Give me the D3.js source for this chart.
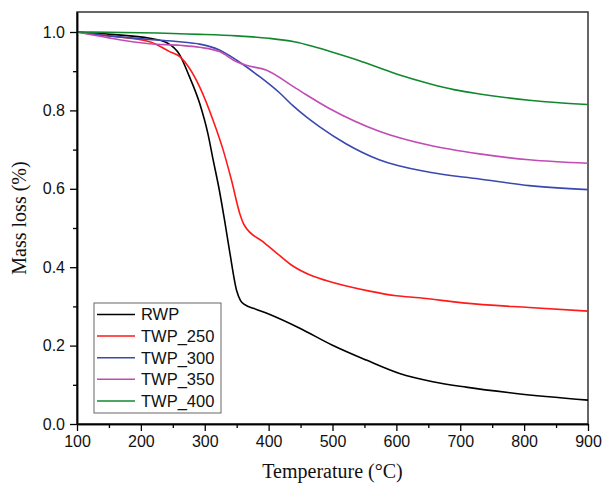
<!DOCTYPE html>
<html>
<head>
<meta charset="utf-8">
<script src="https://cdn.jsdelivr.net/npm/d3@7"></script>
<style>
  body { margin: 0; background: #fff; }
  #chart svg { display: block; }
</style>
</head>
<body>
<div id="chart"></div>
<script>
// Series: temperature (°C) and mass fraction
const seriesNames = ["RWP", "TWP_250", "TWP_300", "TWP_350", "TWP_400"];
const seriesColors = ["#000000", "#ff1a1a", "#3a48b0", "#c04cb4", "#12882e"];

const rwpT = [100, 152, 214, 240, 261, 275, 292, 305, 313, 323, 331, 339, 350, 356, 362, 380, 401, 448, 500, 553, 605, 657, 709, 787, 900];
const rwpV = [1.0, 0.994, 0.984, 0.973, 0.941, 0.89, 0.818, 0.74, 0.675, 0.595, 0.52, 0.44, 0.34, 0.315, 0.305, 0.293, 0.280, 0.245, 0.201, 0.163, 0.129, 0.108, 0.094, 0.078, 0.061];

const t250T = [100, 150, 214, 245, 261, 275, 292, 313, 329, 342, 355, 362, 391, 415, 438, 465, 490, 558, 600, 636, 704, 808, 900];
const t250V = [1.0, 0.99, 0.975, 0.950, 0.937, 0.91, 0.86, 0.775, 0.698, 0.621, 0.536, 0.507, 0.465, 0.433, 0.403, 0.38, 0.366, 0.339, 0.327, 0.322, 0.309, 0.297, 0.288];

const t300T = [100, 150, 214, 261, 292, 323, 350, 386, 417, 438, 460, 480, 521, 573, 652, 730, 808, 900];
const t300V = [1.0, 0.99, 0.981, 0.975, 0.969, 0.954, 0.928, 0.886, 0.845, 0.812, 0.782, 0.758, 0.715, 0.674, 0.642, 0.625, 0.608, 0.598];

const t350T = [100, 150, 214, 261, 292, 323, 350, 365, 396, 443, 495, 573, 652, 730, 808, 900];
const t350V = [1.0, 0.985, 0.970, 0.966, 0.961, 0.950, 0.924, 0.915, 0.903, 0.856, 0.805, 0.747, 0.711, 0.689, 0.674, 0.665];

const t400T = [100, 200, 292, 350, 400, 440, 470, 495, 540, 573, 605, 652, 690, 730, 770, 808, 850, 900];
const t400V = [1.0, 0.998, 0.994, 0.99, 0.984, 0.975, 0.963, 0.951, 0.928, 0.909, 0.890, 0.868, 0.853, 0.842, 0.833, 0.826, 0.82, 0.815];

const xMajorTicks = [100, 200, 300, 400, 500, 600, 700, 800, 900];
const xMinorTicks = [150, 250, 350, 450, 550, 650, 750, 850];
const yMajorTicks = [0.0, 0.2, 0.4, 0.6, 0.8, 1.0];
const yMinorTicks = [0.1, 0.3, 0.5, 0.7, 0.9];

const seriesT = [rwpT, t250T, t300T, t350T, t400T];
const seriesV = [rwpV, t250V, t300V, t350V, t400V];

const width = 604, height = 489;
const margin = { left: 77, right: 16, top: 12, bottom: 65 };

const svg = d3.select("#chart").append("svg")
    .attr("width", width)
    .attr("height", height);

const x = d3.scaleLinear().domain([100, 900]).range([margin.left, width - margin.right]);
const y = d3.scaleLinear().domain([0, 1.051]).range([height - margin.bottom, margin.top]);

// frame (top and right)
svg.append("rect")
    .attr("x", x(100)).attr("y", y(1.051))
    .attr("width", x(900) - x(100)).attr("height", y(0) - y(1.051))
    .attr("fill", "none").attr("stroke", "#333").attr("stroke-width", 1.5);

// series
const line = d3.line()
    .x(d => x(d[0]))
    .y(d => y(d[1]))
    .curve(d3.curveMonotoneX);

const data = seriesNames.map((name, i) => ({
    name: name,
    color: seriesColors[i],
    points: seriesT[i].map((t, j) => [t, seriesV[i][j]])
}));

svg.append("g")
    .selectAll("path")
    .data(data)
    .join("path")
    .attr("fill", "none")
    .attr("stroke", d => d.color)
    .attr("stroke-width", 1.6)
    .attr("d", d => line(d.points));

// axes
svg.append("g")
    .attr("transform", `translate(0,${y(0)})`)
    .call(d3.axisBottom(x).tickValues(xMajorTicks).tickFormat(d3.format("d")).tickSize(7).tickSizeOuter(0).tickPadding(5));
svg.append("g")
    .attr("transform", `translate(0,${y(0)})`)
    .call(d3.axisBottom(x).tickValues(xMinorTicks).tickFormat("").tickSize(4).tickSizeOuter(0));

svg.append("g")
    .attr("transform", `translate(${x(100)},0)`)
    .call(d3.axisLeft(y).tickValues(yMajorTicks).tickFormat(d3.format(".1f")).tickSize(7).tickSizeOuter(0).tickPadding(5));
svg.append("g")
    .attr("transform", `translate(${x(100)},0)`)
    .call(d3.axisLeft(y).tickValues(yMinorTicks).tickFormat("").tickSize(4).tickSizeOuter(0));

svg.selectAll(".domain").attr("stroke", "#000").attr("stroke-width", 1.5);
svg.selectAll(".tick line").attr("stroke", "#000").attr("stroke-width", 1.3);
svg.selectAll(".tick text")
    .attr("font-family", "Liberation Sans, Arial, sans-serif")
    .attr("font-size", "16px")
    .attr("fill", "#111");

// axis titles
svg.append("text")
    .attr("x", (x(100) + x(900)) / 2)
    .attr("y", 478)
    .attr("text-anchor", "middle")
    .attr("font-family", "Liberation Serif, Times New Roman, serif")
    .attr("font-size", "20px")
    .attr("fill", "#111")
    .text("Temperature (°C)");

svg.append("text")
    .attr("transform", `translate(26,${(y(0) + y(1.051)) / 2}) rotate(-90)`)
    .attr("text-anchor", "middle")
    .attr("font-family", "Liberation Serif, Times New Roman, serif")
    .attr("font-size", "20px")
    .attr("fill", "#111")
    .text("Mass loss (%)");

// legend
const legend = svg.append("g").attr("transform", "translate(94,303)");
legend.append("rect")
    .attr("width", 127).attr("height", 110)
    .attr("fill", "#fff").attr("stroke", "#666").attr("stroke-width", 1);

const item = legend.selectAll("g")
    .data(data)
    .join("g")
    .attr("transform", (d, i) => `translate(0,${11.5 + i * 21.6})`);

item.append("line")
    .attr("x1", 3).attr("x2", 41)
    .attr("stroke", d => d.color)
    .attr("stroke-width", 1.5);

item.append("text")
    .attr("x", 47)
    .attr("dy", "0.36em")
    .attr("font-family", "Liberation Sans, Arial, sans-serif")
    .attr("font-size", "16.5px")
    .attr("fill", "#111")
    .text(d => d.name);
</script>
</body>
</html>
